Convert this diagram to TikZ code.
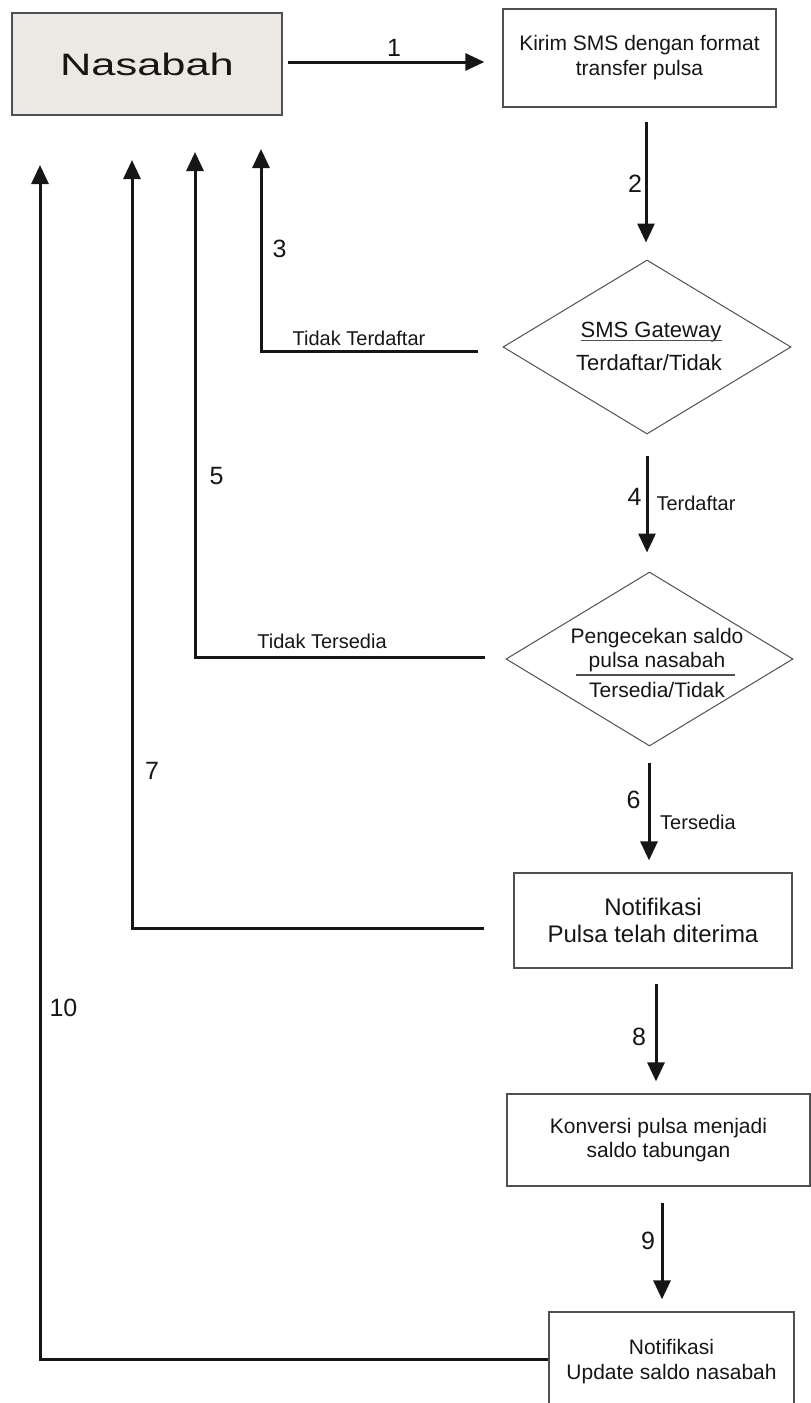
\documentclass[tikz,border=0pt]{standalone}
\usepackage{fontspec}
\usepackage{graphicx}
\setmainfont{Liberation Sans}
\usetikzlibrary{arrows.meta,shapes.geometric,calc}
\definecolor{nasfill}{RGB}{236,233,227}
\definecolor{ink}{RGB}{22,22,22}
\definecolor{edge}{RGB}{80,80,80}
\begin{document}
\begin{tikzpicture}[x=1pt,y=-1pt,
  conn/.style={draw=ink, line width=3pt},
  arr/.style={conn, -{Triangle[width=17pt,length=19pt]}},
  boxnode/.style={draw=edge, line width=1.3pt, rectangle, inner sep=0pt, align=center, text=ink},
  dia/.style={draw=edge, line width=1pt, diamond, inner sep=0pt},
  txt/.style={inner sep=0pt, text=ink, font=\fontsize{#1}{#1}\selectfont},
  num/.style={inner sep=0pt, text=ink, font=\fontsize{25}{25}\selectfont},
]
\path[use as bounding box] (0,0) rectangle (811,1403);
\clip (0,0) rectangle (811,1403);

% nodes
\node[boxnode, fill=nasfill, minimum width=270pt, minimum height=102pt, font=\fontsize{31}{31}\selectfont] (nas) at (147,64) {\scalebox{1.4}[1]{Nasabah}};
\node[boxnode, minimum width=273pt, minimum height=98pt, font=\fontsize{21}{25}\selectfont] (box1) at (639.5,58) {Kirim SMS dengan format\\transfer pulsa};

\node[dia, minimum width=288pt, minimum height=174pt] (d1) at (647,347) {};
\node[txt=22, anchor=base] (smsg) at (651,337) {SMS Gateway};
\node[txt=22, anchor=base] (d1b) at (649,370) {Terdaftar/Tidak};
\draw[draw=edge, line width=1pt] ([yshift=-3pt]smsg.base west) -- ([yshift=-3pt]smsg.base east);

\node[dia, minimum width=287pt, minimum height=174pt] (d2) at (649.5,659) {};
\node[txt=21, anchor=base] (d2a) at (657,643) {Pengecekan saldo};
\node[txt=21, anchor=base] (d2b) at (657,667) {pulsa nasabah};
\node[txt=21, anchor=base] (d2c) at (657,697) {Tersedia/Tidak};
\draw[draw=edge, line width=1.2pt] ($(d2b.base)+(-81,8)$) -- ($(d2b.base)+(78,8)$);

\node[boxnode, minimum width=278pt, minimum height=95pt, font=\fontsize{24}{27}\selectfont] (n1) at (653,920.5) {Notifikasi\\Pulsa telah diterima};
\node[boxnode, minimum width=303pt, minimum height=92pt, font=\fontsize{21}{23.5}\selectfont] (kon) at (658.5,1140) {Konversi pulsa menjadi\\saldo tabungan};
\node[boxnode, minimum width=245pt, minimum height=100pt, font=\fontsize{21}{25}\selectfont] (upd) at (671.5,1362) {Notifikasi\\Update saldo nasabah};

% arrow tip coordinates below Nasabah
\coordinate (t3) at (261,149);
\coordinate (t5) at (195,152);
\coordinate (t7) at (132,160);
\coordinate (t10) at (40,165);

% connectors
\draw[arr] ($(nas.east)+(5,-2)$) -- ($(nas.east -| box1.west)+(-18,-2)$);
\draw[arr] ($(box1.south -| d1.north)+(-1,14)$) -- ($(d1.north)+(-1,-17)$);
\draw[arr] ($(d1.west)+(-25,4)$) -| (t3);
\draw[arr] ($(d1.south)+(0,21)$) -- ($(d1.south |- d2.north)+(0,-19)$);
\draw[arr] ($(d2.west)+(-21,-2)$) -| (t5);
\draw[arr] ($(d2.south)+(-0.5,16)$) -- ($(d2.south |- n1.north)+(-0.5,-12)$);
\draw[arr] ($(n1.west)+(-29,7.5)$) -| (t7);
\draw[arr] ($(n1.south)+(3,15)$) -- ($(n1.south |- kon.north)+(3,-12)$);
\draw[arr] ($(kon.south)+(3.5,16)$) -- ($(kon.south |- upd.north)+(3.5,-12)$);
\draw[arr] ($(upd.west)+(0,-3)$) -| (t10);

% labels
\node[num] (l1) at (394,48) {1};
\node[num] (l2) at (635,184) {2};
\node[num] (l3) at (279.5,249) {3};
\node[num] (l4) at (634.5,496.5) {4};
\node[num] (l5) at (216.5,476) {5};
\node[num] (l6) at (633.5,800) {6};
\node[num] (l7) at (152,770.5) {7};
\node[num] (l8) at (639,1036.5) {8};
\node[num] (l9) at (648,1240.5) {9};
\node[num] (l10) at (63.5,1008) {10};

\node[txt=20, anchor=base] (lTT) at (359,345) {Tidak Terdaftar};
\node[txt=20, anchor=base] (lTS) at (322,648) {Tidak Tersedia};
\node[txt=20, anchor=base] (lT4) at (696,510) {Terdaftar};
\node[txt=20, anchor=base] (lT6) at (698,829) {Tersedia};
\end{tikzpicture}
\end{document}
